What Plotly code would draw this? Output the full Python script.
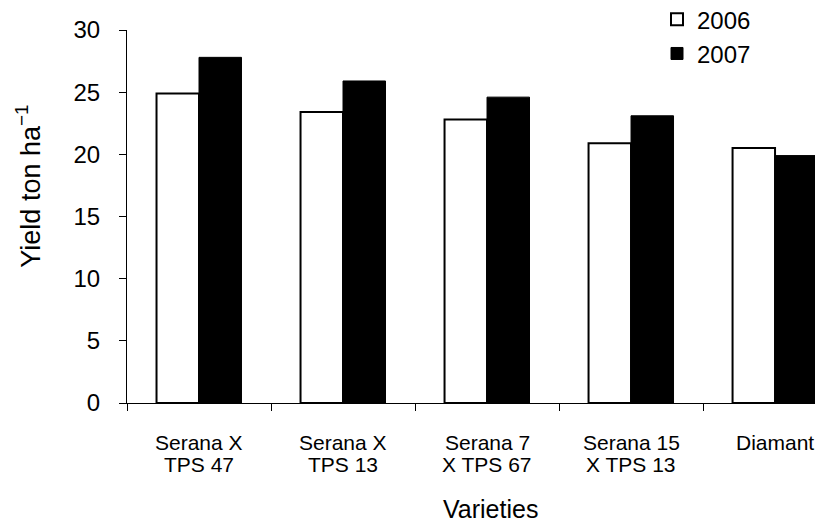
import plotly.graph_objects as go

# ---- data ----
categories = ["Serana X TPS 47", "Serana X TPS 13", "Serana 7 X TPS 67", "Serana 15 X TPS 13", "Diamant"]
label_line1 = ["Serana X", "Serana X", "Serana 7", "Serana 15", "Diamant"]
label_line2 = ["TPS 47", "TPS 13", "X TPS 67", "X TPS 13", ""]
yield_2006 = [24.9, 23.4, 22.8, 20.9, 20.5]
yield_2007 = [27.8, 25.9, 24.6, 23.1, 19.9]
series_names = ["2006", "2007"]
y_ticks = [0, 5, 10, 15, 20, 25, 30]

FONT = "Liberation Sans, Arial, sans-serif"

fig = go.Figure()
fig.add_trace(go.Bar(
    x=categories, y=yield_2006, name=series_names[0],
    marker=dict(color="white", line=dict(color="black", width=2)),
))
fig.add_trace(go.Bar(
    x=categories, y=yield_2007, name=series_names[1],
    marker=dict(color="black", line=dict(color="black", width=1)),
))

annotations = []
for cat, l1, l2 in zip(categories, label_line1, label_line2):
    annotations.append(dict(x=cat, xref="x", y=0, yref="paper", text=l1,
                            showarrow=False, yanchor="middle", yshift=-39,
                            font=dict(size=21, color="black", family=FONT)))
    if l2:
        annotations.append(dict(x=cat, xref="x", y=0, yref="paper", text=l2,
                                showarrow=False, yanchor="middle", yshift=-61,
                                font=dict(size=21, color="black", family=FONT)))

annotations.append(dict(x=0.522, xref="paper", y=0, yref="paper", text="Varieties",
                        showarrow=False, yanchor="middle", yshift=-106,
                        font=dict(size=25, color="black", family=FONT)))
annotations.append(dict(x=0, xref="paper", y=0.58, yref="paper",
                        text="Yield ton ha<sup>−1</sup>", textangle=-90,
                        showarrow=False, xanchor="center", xshift=-99,
                        font=dict(size=27, color="black", family=FONT)))

fig.update_layout(
    width=815, height=517,
    margin=dict(l=119, r=0, t=22, b=122, autoexpand=False),
    paper_bgcolor="white", plot_bgcolor="white",
    barmode="group", bargap=0.41, bargroupgap=0,
    font=dict(family=FONT, size=21, color="black"),
    showlegend=True,
    legend=dict(x=0.7615, y=1.088, xanchor="left", yanchor="top",
                font=dict(size=24, family=FONT, color="black"),
                bgcolor="rgba(0,0,0,0)"),
    xaxis=dict(
        type="category", range=[-0.5, 4.333], automargin=False,
        showline=True, linecolor="black", linewidth=1,
        ticks="outside", tickson="boundaries", ticklen=7, tickcolor="black",
        showticklabels=False, showgrid=False, zeroline=False,
    ),
    yaxis=dict(
        range=[0, 30], tickvals=y_ticks, automargin=False,
        showline=True, linecolor="black", linewidth=1,
        ticks="outside", ticklen=7, tickcolor="black",
        ticklabelstandoff=14,
        tickfont=dict(size=24, family=FONT, color="black"),
        showgrid=False, zeroline=False,
    ),
    annotations=annotations,
)

fig.write_html("out.html")
